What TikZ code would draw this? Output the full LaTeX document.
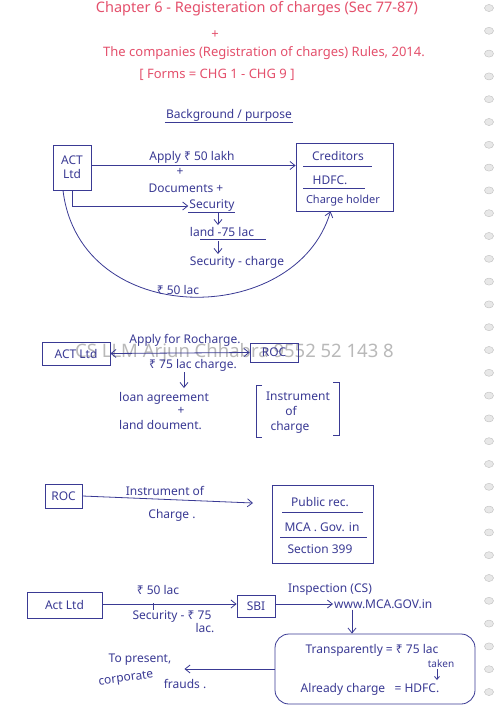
\documentclass[tikz,border=0pt]{standalone}
\usepackage{fontspec}
\setmainfont{Noto Sans}
\usetikzlibrary{arrows.meta}
\definecolor{ink}{HTML}{3A3A94}
\definecolor{redink}{HTML}{E4506C}
\tikzset{
  hw/.style={text=ink, font=\fontsize{12}{14}\selectfont, inner sep=1pt},
  rw/.style={text=redink, font=\fontsize{13}{15}\selectfont, inner sep=1pt},
  boxed/.style={draw=ink, line width=0.8pt, text=ink, font=\fontsize{12}{14}\selectfont, align=center, inner sep=1pt},
  arr/.style={draw=ink, line width=0.8pt, -{Straight Barb[length=5pt,width=8pt]}},
  uline/.style={draw=ink, line width=0.7pt},
  hole/.style={draw=gray!45, fill=gray!18, line width=0.5pt}
}
\begin{document}
\begin{tikzpicture}[x=1pt,y=-1pt]
\useasboundingbox (0,0) rectangle (500,707);
\fill[white] (0,0) rectangle (500,707);
% spiral holes
\foreach \i in {0,...,30} {\draw[hole] (489,{8+\i*22.8}) ellipse (4.5 and 3.5);}
% watermark
\node[anchor=west, text=gray!55, font=\fontsize{18.5}{20}\selectfont, inner sep=0] (wm) at (75,353) {CS LLM Arjun Chhabra 9552 52 143 8};

% ---- title
\node[rw, font=\fontsize{14.5}{16}\selectfont] (t1) at (257,9) {Chapter 6 - Registeration of charges (Sec 77-87)};
\node[rw] (tplus) at (215,35) {+};
\node[rw] (t2) at (264,53) {The companies (Registration of charges) Rules, 2014.};
\node[rw] (t3) at (217,75) {[ Forms = CHG 1 - CHG 9 ]};

% ---- background
\node[hw] (bg) at (229,115) {Background / purpose};
\draw[uline] (bg.south west) -- (bg.south east);

\node[boxed, minimum width=38pt, minimum height=45pt] (act1) at (72,167.5) {ACT\\Ltd};
\node[boxed, minimum width=97pt, minimum height=68pt] (cred) at (344.5,177) {};
\node[hw] (c1) at (338,156) {Creditors};
\draw[uline] (303,166) -- (372,166);
\node[hw] (c2) at (330,180) {HDFC.};
\draw[uline] (303,188) -- (365,188);
\node[hw, font=\fontsize{11}{13}\selectfont] (c3) at (343,201) {Charge holder};

\draw[arr] ([yshift=2pt]act1.east) -- ([yshift=2pt]act1.east -| cred.west);
\node[hw] (apply) at (192,157) {Apply ₹ 50 lakh};
\node[hw] (p1) at (180,172) {+};
\node[hw] (docs) at (186,188) {Documents +};
\node[hw] (sec) at (212,206) {Security};
\draw[uline] (188,212) -- (235,212);
\draw[arr] (act1.south) |- (sec.west);
\node[hw] (land) at (222,232) {land -75 lac};
\draw[uline] (200,239) -- (266,239);
\coordinate (a1s) at (218,213);
\coordinate (a1e) at (218,225);
\draw[arr] (a1s) -- (a1e);
\node[hw] (sc) at (237,262) {Security - charge};
\coordinate (a2s) at (218,241);
\coordinate (a2e) at (218,254);
\draw[arr] (a2s) -- (a2e);
\draw[arr] ([xshift=-9pt]act1.south) .. controls (80,330) and (296,328) .. ([xshift=-14pt]cred.south);
\node[hw] (fifty) at (178,290) {₹ 50 lac};

% ---- section 2
\node[boxed, minimum width=68pt, minimum height=23pt] (act2) at (76,353.5) {ACT Ltd};
\node[boxed, minimum width=48pt, minimum height=19pt] (roc2) at (274,352.5) {ROC};
\draw[arr, {Straight Barb[length=5pt,width=8pt]}-{Straight Barb[length=5pt,width=8pt]}] (act2.east) -- (roc2.west);
\node[hw] (ap2) at (185,340) {Apply for Rocharge.};
\node[hw] (ch2) at (193,365) {₹ 75 lac charge.};
\coordinate (d2a) at (184,372);
\node[hw, anchor=west] (loan) at (118,398) {loan agreement};
\coordinate (d2b) at (184,388);
\draw[arr] (d2a) -- (d2b);
\node[hw] (p2) at (181,411) {+};
\node[hw, anchor=west] (land2) at (118,425) {land doument.};
\draw[uline] (262,385) -- (256,385) -- (256,437) -- (262,437);
\draw[uline] (333,382) -- (339,382) -- (339,435) -- (333,435);
\node[hw] (ins1) at (298,396) {Instrument};
\node[hw] (ins2) at (291,411) {of};
\node[hw] (ins3) at (290,427) {charge};

% ---- section 3
\node[boxed, minimum width=37pt, minimum height=24pt] (roc3) at (63.5,496) {ROC};
\coordinate (tip3) at (253,503);
\draw[arr] (roc3.east) -- (tip3);
\node[hw] (i3a) at (165,491) {Instrument of};
\node[hw] (i3b) at (172,515) {Charge .};
\node[boxed, minimum width=101pt, minimum height=78pt] (pub) at (322.5,524) {};
\node[hw] (pb1) at (320,502) {Public rec.};
\draw[uline] (282,512) -- (363,512);
\node[hw] (pb2) at (322,527) {MCA . Gov. in};
\draw[uline] (280,537) -- (367,537);
\node[hw] (pb3) at (320,549) {Section 399};

% ---- section 4
\node[boxed, minimum width=75pt, minimum height=26pt] (act4) at (64.5,605) {Act Ltd};
\node[boxed, minimum width=38pt, minimum height=22pt] (sbi) at (256,606) {SBI};
\draw[arr] ([yshift=1pt]act4.east) -- ([yshift=1pt]act4.east -| sbi.west);
\node[hw] (f4) at (158,590) {₹ 50 lac};
\draw[uline] (153,603) -- (153,610);
\node[hw] (s4) at (172,617) {Security - ₹ 75};
\node[hw] (l4) at (205,628) {lac.};
\node[hw, anchor=west] (www) at (333,604) {www.MCA.GOV.in};
\draw[arr] ([yshift=2pt]sbi.east) -- (www.west);
\node[hw] (insp) at (330,590) {Inspection (CS)};
\node[draw=ink, line width=0.8pt, rounded corners=14pt, minimum width=200pt, minimum height=70pt] (tr) at (375,669) {};
\draw[arr] (www.south -| 352,0) -- (tr.north -| 352,0);
\node[hw] (tr1) at (372,650) {Transparently = ₹ 75 lac};
\node[hw, font=\fontsize{10}{12}\selectfont] (tk) at (441,664) {taken};
\coordinate (tka) at (437,669);
\coordinate (tkb) at (437,680);
\draw[arr, -{Straight Barb[length=3pt,width=5pt]}] (tka) -- (tkb);
\node[hw] (tr2) at (370,689) {Already charge \ \ = HDFC.};
\node[hw] (prev) at (140,660) {To present,};
\node[hw, rotate=8] (corp) at (126,679) {corporate};
\node[hw] (frauds) at (185,684) {frauds .};
\draw[arr] (tr.west) -- ([xshift=12pt]prev.east |- tr.west);
\end{tikzpicture}
\end{document}
